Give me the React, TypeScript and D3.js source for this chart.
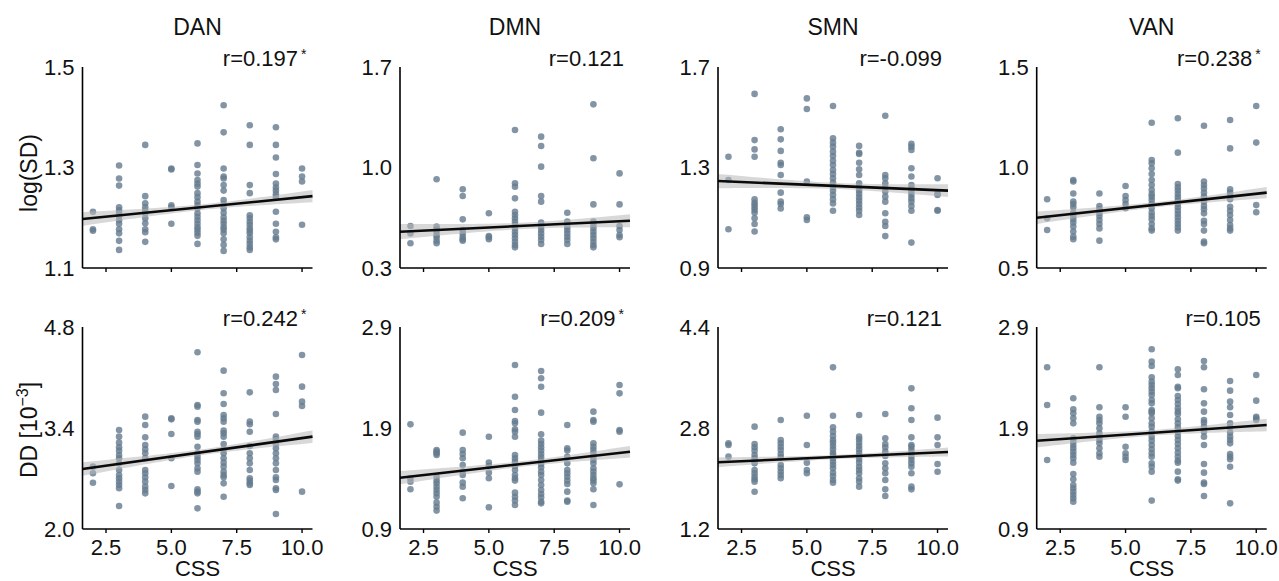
import React from "react";
import * as d3 from "d3";

// ---------- data ----------
const networks = ["DAN", "DMN", "SMN", "VAN"];
const cssLevels = [2, 3, 4, 5, 6, 7, 8, 9, 10];
const xTicks = [2.5, 5.0, 7.5, 10.0];
const xDomain = [1.6, 10.4];

const sdTicks = [[1.1, 1.3, 1.5], [0.3, 1.0, 1.7], [0.9, 1.3, 1.7], [0.5, 1.0, 1.5]];
const ddTicks = [[2.0, 3.4, 4.8], [0.9, 1.9, 2.9], [1.2, 2.8, 4.4], [0.9, 1.9, 2.9]];

const sdR = ["r=0.197", "r=0.121", "r=-0.099", "r=0.238"];
const sdSig = [true, false, false, true];
const ddR = ["r=0.242", "r=0.209", "r=0.121", "r=0.105"];
const ddSig = [true, true, false, false];

// fitted line values at the x-axis ends (CSS = 1.6 and 10.4)
const sdFit = [[1.1975, 1.243], [0.553, 0.629], [1.246, 1.208], [0.75, 0.875]];
const ddFit = [[2.832, 3.28], [1.408, 1.665], [2.257, 2.42], [1.774, 1.93]];

// log(SD) values, one list per CSS level (2..10)
const sdDAN = [
  [1.212, 1.177, 1.174],
  [1.304, 1.278, 1.264, 1.221, 1.215, 1.21, 1.203, 1.195, 1.188, 1.177, 1.169, 1.154, 1.136],
  [1.345, 1.243, 1.229, 1.221, 1.214, 1.209, 1.199, 1.189, 1.177, 1.171, 1.152],
  [1.298, 1.296, 1.225, 1.221, 1.188],
  [1.348, 1.305, 1.288, 1.275, 1.268, 1.262, 1.249, 1.241, 1.232, 1.225, 1.219, 1.209, 1.202, 1.195, 1.188, 1.181, 1.176, 1.17, 1.164, 1.148],
  [1.424, 1.37, 1.298, 1.282, 1.278, 1.265, 1.254, 1.235, 1.227, 1.219, 1.21, 1.201, 1.194, 1.188, 1.181, 1.176, 1.169, 1.157, 1.146, 1.134],
  [1.384, 1.345, 1.265, 1.249, 1.205, 1.199, 1.192, 1.186, 1.179, 1.174, 1.169, 1.161, 1.154, 1.148, 1.141, 1.136],
  [1.38, 1.345, 1.32, 1.287, 1.268, 1.26, 1.254, 1.247, 1.241, 1.212, 1.188, 1.172, 1.161, 1.157],
  [1.298, 1.282, 1.272, 1.186],
];
const sdDMN = [
  [0.593, 0.541, 0.472],
  [0.918, 0.588, 0.569, 0.553, 0.53, 0.514, 0.49, 0.472],
  [0.848, 0.801, 0.639, 0.565, 0.541, 0.518, 0.5, 0.49],
  [0.681, 0.523, 0.514, 0.5],
  [1.261, 0.89, 0.866, 0.785, 0.692, 0.669, 0.646, 0.623, 0.6, 0.576, 0.553, 0.53, 0.507, 0.483, 0.46, 0.444],
  [1.215, 1.15, 1.006, 0.801, 0.762, 0.616, 0.588, 0.565, 0.541, 0.518, 0.495, 0.467],
  [0.685, 0.623, 0.588, 0.565, 0.541, 0.518, 0.495, 0.467],
  [1.44, 1.064, 0.743, 0.623, 0.6, 0.576, 0.553, 0.53, 0.507, 0.483, 0.46, 0.444],
  [0.959, 0.743, 0.593, 0.565, 0.53, 0.514],
];
const sdSMN = [
  [1.343, 1.25, 1.054],
  [1.593, 1.409, 1.372, 1.343, 1.173, 1.16, 1.151, 1.141, 1.131, 1.12, 1.098, 1.075, 1.045],
  [1.452, 1.412, 1.366, 1.319, 1.31, 1.27, 1.2, 1.164, 1.155, 1.137],
  [1.575, 1.533, 1.244, 1.102, 1.091],
  [1.545, 1.416, 1.399, 1.383, 1.363, 1.346, 1.327, 1.31, 1.29, 1.274, 1.257, 1.24, 1.224, 1.208, 1.191, 1.173, 1.157, 1.128],
  [1.386, 1.359, 1.354, 1.319, 1.293, 1.27, 1.237, 1.221, 1.208, 1.195, 1.181, 1.168, 1.155, 1.141, 1.128, 1.111],
  [1.506, 1.27, 1.257, 1.237, 1.221, 1.204, 1.184, 1.164, 1.118, 1.084, 1.067, 1.027],
  [1.394, 1.383, 1.37, 1.297, 1.264, 1.23, 1.217, 1.204, 1.191, 1.177, 1.164, 1.147, 1.128, 1.001],
  [1.257, 1.197, 1.191, 1.131, 1.128],
];
const sdVAN = [
  [0.842, 0.747, 0.689],
  [0.938, 0.93, 0.871, 0.83, 0.818, 0.802, 0.775, 0.759, 0.742, 0.726, 0.706, 0.681, 0.656, 0.643],
  [0.871, 0.808, 0.792, 0.775, 0.759, 0.739, 0.719, 0.697, 0.636],
  [0.908, 0.858, 0.838, 0.818, 0.797],
  [1.223, 1.037, 1.021, 0.996, 0.968, 0.938, 0.913, 0.888, 0.868, 0.855, 0.838, 0.818, 0.797, 0.775, 0.759, 0.742, 0.719, 0.697, 0.686],
  [1.245, 1.074, 0.918, 0.901, 0.885, 0.868, 0.852, 0.835, 0.818, 0.802, 0.785, 0.769, 0.752, 0.735, 0.719, 0.702, 0.686],
  [1.208, 0.93, 0.913, 0.896, 0.875, 0.855, 0.83, 0.808, 0.792, 0.772, 0.735, 0.719, 0.686, 0.631, 0.623],
  [1.236, 1.095, 0.891, 0.875, 0.858, 0.842, 0.805, 0.785, 0.764, 0.739, 0.714, 0.697, 0.686],
  [1.306, 1.124, 0.813, 0.777],
];

// DD [10^-3] values, one list per CSS level (2..10)
const ddDAN = [
  [2.864, 2.772, 2.642],
  [3.372, 3.28, 3.197, 3.132, 3.086, 3.026, 2.98, 2.91, 2.818, 2.749, 2.702, 2.656, 2.61, 2.564, 2.319],
  [3.557, 3.442, 3.271, 3.164, 3.104, 3.049, 2.98, 2.818, 2.772, 2.716, 2.656, 2.587, 2.541, 2.494],
  [3.534, 3.52, 3.317, 2.98, 2.596],
  [4.449, 3.719, 3.696, 3.511, 3.488, 3.349, 3.317, 3.28, 3.141, 3.049, 3.003, 2.956, 2.91, 2.841, 2.795, 2.55, 2.518, 2.494, 2.286],
  [4.195, 3.881, 3.733, 3.58, 3.534, 3.488, 3.363, 3.326, 3.28, 3.178, 3.104, 3.049, 2.98, 2.92, 2.864, 2.795, 2.749, 2.716, 2.633, 2.448],
  [3.894, 3.488, 3.451, 3.349, 3.15, 3.049, 2.98, 2.91, 2.818, 2.702, 2.67, 2.633, 2.61],
  [4.112, 4.01, 3.927, 3.594, 3.28, 3.243, 3.178, 3.118, 3.049, 2.98, 2.91, 2.818, 2.716, 2.679, 2.564, 2.541, 2.208],
  [4.412, 3.973, 3.765, 3.705, 2.518],
];
const ddDMN = [
  [1.936, 1.402, 1.369, 1.293],
  [1.682, 1.666, 1.649, 1.633, 1.418, 1.379, 1.352, 1.319, 1.286, 1.253, 1.22, 1.161, 1.121, 1.082],
  [1.854, 1.682, 1.643, 1.6, 1.534, 1.468, 1.435, 1.359, 1.319, 1.204],
  [1.814, 1.557, 1.524, 1.458, 1.402, 1.115],
  [2.524, 2.21, 2.078, 1.969, 1.946, 1.887, 1.864, 1.814, 1.633, 1.6, 1.567, 1.524, 1.484, 1.435, 1.402, 1.379, 1.26, 1.22, 1.181, 1.138],
  [2.464, 2.392, 2.309, 2.052, 1.837, 1.775, 1.742, 1.709, 1.676, 1.643, 1.61, 1.577, 1.544, 1.511, 1.468, 1.435, 1.385, 1.336, 1.286, 1.247, 1.214, 1.171, 1.154],
  [1.93, 1.699, 1.676, 1.616, 1.55, 1.484, 1.451, 1.418, 1.379, 1.346, 1.27, 1.181, 1.171],
  [2.062, 1.979, 1.963, 1.748, 1.715, 1.682, 1.649, 1.616, 1.583, 1.55, 1.501, 1.468, 1.435, 1.402, 1.379, 1.352, 1.293, 1.138],
  [2.326, 2.243, 1.88, 1.864, 1.342],
];
const ddSMN = [
  [2.557, 2.531, 2.346],
  [2.821, 2.547, 2.494, 2.441, 2.372, 2.319, 2.283, 2.24, 2.135, 2.082, 2.029, 1.987, 1.95, 1.791],
  [2.927, 2.61, 2.557, 2.504, 2.451, 2.388, 2.335, 2.214, 2.161, 2.108, 2.055, 2.003],
  [2.995, 2.531, 2.251, 2.135, 2.082],
  [3.761, 2.995, 2.811, 2.742, 2.673, 2.61, 2.568, 2.515, 2.462, 2.409, 2.372, 2.319, 2.267, 2.214, 2.161, 2.092, 2.04, 1.976, 1.934],
  [3.006, 2.663, 2.62, 2.568, 2.515, 2.462, 2.409, 2.356, 2.304, 2.251, 2.187, 2.135, 2.082, 2.003, 1.95, 1.871],
  [3.022, 2.636, 2.547, 2.494, 2.425, 2.356, 2.24, 2.161, 2.082, 1.976, 1.828, 1.723],
  [3.428, 3.112, 2.927, 2.652, 2.531, 2.504, 2.451, 2.399, 2.346, 2.293, 2.24, 2.187, 2.082, 1.871, 1.828],
  [2.964, 2.652, 2.531, 2.23, 2.108],
];
const ddVAN = [
  [2.501, 2.128, 1.583],
  [2.194, 2.085, 2.045, 1.996, 1.946, 1.798, 1.765, 1.732, 1.699, 1.666, 1.633, 1.6, 1.557, 1.445, 1.392, 1.336, 1.303, 1.27, 1.237, 1.204, 1.171],
  [2.501, 2.105, 2.012, 1.979, 1.946, 1.897, 1.847, 1.814, 1.781, 1.748, 1.699, 1.649, 1.616],
  [2.105, 2.012, 1.715, 1.649, 1.616, 1.583],
  [2.679, 2.557, 2.514, 2.402, 2.359, 2.326, 2.293, 2.26, 2.227, 2.177, 2.144, 2.078, 2.062, 2.045, 1.996, 1.946, 1.913, 1.864, 1.814, 1.775, 1.732, 1.689, 1.649, 1.616, 1.55, 1.517, 1.468, 1.181],
  [2.481, 2.425, 2.309, 2.293, 2.217, 2.177, 2.138, 2.095, 2.062, 2.039, 1.986, 1.946, 1.906, 1.864, 1.821, 1.781, 1.742, 1.699, 1.656, 1.616, 1.577, 1.557, 1.468, 1.392, 1.379],
  [2.563, 2.501, 2.283, 2.144, 2.062, 1.979, 1.953, 1.913, 1.864, 1.814, 1.732, 1.544, 1.458, 1.359, 1.346, 1.227],
  [2.365, 2.27, 2.161, 2.105, 2.029, 1.946, 1.906, 1.854, 1.814, 1.781, 1.748, 1.643, 1.616, 1.59, 1.517, 1.154],
  [2.425, 2.171, 2.012, 1.996, 1.979],
];

const sdData = [sdDAN, sdDMN, sdSMN, sdVAN];
const ddData = [ddDAN, ddDMN, ddSMN, ddVAN];

// ---------- layout ----------
const W = 1279;
const H = 581;
const panelLeft = [82.5, 400, 718, 1036.7];
const panelW = 230;
const rows = [
  { bottom: 268, top: 67 },
  { bottom: 529, top: 327 },
];
const FONT = "'Liberation Sans', Arial, Helvetica, sans-serif";
const DOT = "#647a8f";

type PanelProps = {
  left: number;
  row: { bottom: number; top: number };
  cols: number[][];
  ticks: number[];
  fit: number[];
  rText: string;
  sig: boolean;
  showXLabels: boolean;
};

function Panel({ left, row, cols, ticks, fit, rText, sig, showXLabels }: PanelProps) {
  const x = d3.scaleLinear().domain(xDomain).range([left, left + panelW]);
  const y = d3
    .scaleLinear()
    .domain([ticks[0], ticks[ticks.length - 1]])
    .range([row.bottom, row.top]);
  const fitFn = d3.scaleLinear().domain(xDomain).range(fit);

  const pts: [number, number][] = [];
  cols.forEach((vals, i) => vals.forEach((v) => pts.push([cssLevels[i], v])));
  const n = pts.length;
  const xm = d3.mean(pts, (p) => p[0]) as number;
  const sxx = d3.sum(pts, (p) => (p[0] - xm) ** 2);
  const sse = d3.sum(pts, (p) => (p[1] - fitFn(p[0])) ** 2);
  const s = Math.sqrt(sse / (n - 2));
  const half = (xv: number) => 0.95 * s * Math.sqrt(1 / n + (xv - xm) ** 2 / sxx);
  const xs = d3.range(0, 45).map((i) => xDomain[0] + (i * (xDomain[1] - xDomain[0])) / 44);
  const area = d3
    .area<number>()
    .x((d) => x(d))
    .y0((d) => y(fitFn(d) - half(d)))
    .y1((d) => y(fitFn(d) + half(d)));
  const line = d3
    .line<number>()
    .x((d) => x(d))
    .y((d) => y(fitFn(d)));

  return (
    <g>
      {pts.map((p, i) => (
        <circle key={i} cx={x(p[0])} cy={y(p[1])} r={3.3} fill={DOT} fillOpacity={0.8} />
      ))}
      <path d={area(xs) || ""} fill="#b8b8b8" fillOpacity={0.55} />
      <path d={line(xDomain) || ""} fill="none" stroke="#0a0a0a" strokeWidth={2.6} />
      <line x1={left} x2={left} y1={row.top} y2={row.bottom} stroke="#000" strokeWidth={1.6} />
      <line x1={left} x2={left + panelW} y1={row.bottom} y2={row.bottom} stroke="#000" strokeWidth={1.6} />
      {xTicks.map((t) => (
        <line key={t} x1={x(t)} x2={x(t)} y1={row.bottom} y2={row.bottom + 4} stroke="#000" strokeWidth={1.4} />
      ))}
      {showXLabels &&
        xTicks.map((t) => (
          <text key={"l" + t} x={x(t)} y={row.bottom + 25.5} textAnchor="middle" fontSize={22} fontFamily={FONT} fill="#111">
            {d3.format(".1f")(t)}
          </text>
        ))}
      {ticks.map((t) => (
        <text key={"y" + t} x={left - 8} y={y(t) + 7.9} textAnchor="end" fontSize={22} fontFamily={FONT} fill="#111">
          {d3.format(".1f")(t)}
        </text>
      ))}
      <text x={left + panelW - 6} y={row.top - 1} textAnchor="end" fontSize={22} fontFamily={FONT} fill="#111">
        {rText}
        {sig && (
          <tspan fontSize={14} dx={3} dy={-7}>
            *
          </tspan>
        )}
      </text>
    </g>
  );
}

export default function App() {
  return (
    <svg
      width={W}
      height={H}
      viewBox={`0 0 ${W} ${H}`}
      style={{ position: "absolute", left: 0, top: 0, background: "#fff" }}
    >
      <rect x={0} y={0} width={W} height={H} fill="#fff" />
      {networks.map((name, i) => (
        <g key={name}>
          <text x={panelLeft[i] + panelW / 2} y={35} textAnchor="middle" fontSize={23} fontFamily={FONT} fill="#111">
            {name}
          </text>
          <Panel
            left={panelLeft[i]}
            row={rows[0]}
            cols={sdData[i]}
            ticks={sdTicks[i]}
            fit={sdFit[i]}
            rText={sdR[i]}
            sig={sdSig[i]}
            showXLabels={false}
          />
          <Panel
            left={panelLeft[i]}
            row={rows[1]}
            cols={ddData[i]}
            ticks={ddTicks[i]}
            fit={ddFit[i]}
            rText={ddR[i]}
            sig={ddSig[i]}
            showXLabels={true}
          />
          <text x={panelLeft[i] + panelW / 2} y={575.5} textAnchor="middle" fontSize={22} fontFamily={FONT} fill="#111">
            CSS
          </text>
        </g>
      ))}
      <text transform="translate(37,173) rotate(-90)" textAnchor="middle" fontSize={23} fontFamily={FONT} fill="#111">
        log(SD)
      </text>
      <text transform="translate(37,430) rotate(-90)" textAnchor="middle" fontSize={23} fontFamily={FONT} fill="#111">
        DD [10
        <tspan fontSize={16} dy={-9}>
          −3
        </tspan>
        <tspan dy={9}>]</tspan>
      </text>
    </svg>
  );
}
